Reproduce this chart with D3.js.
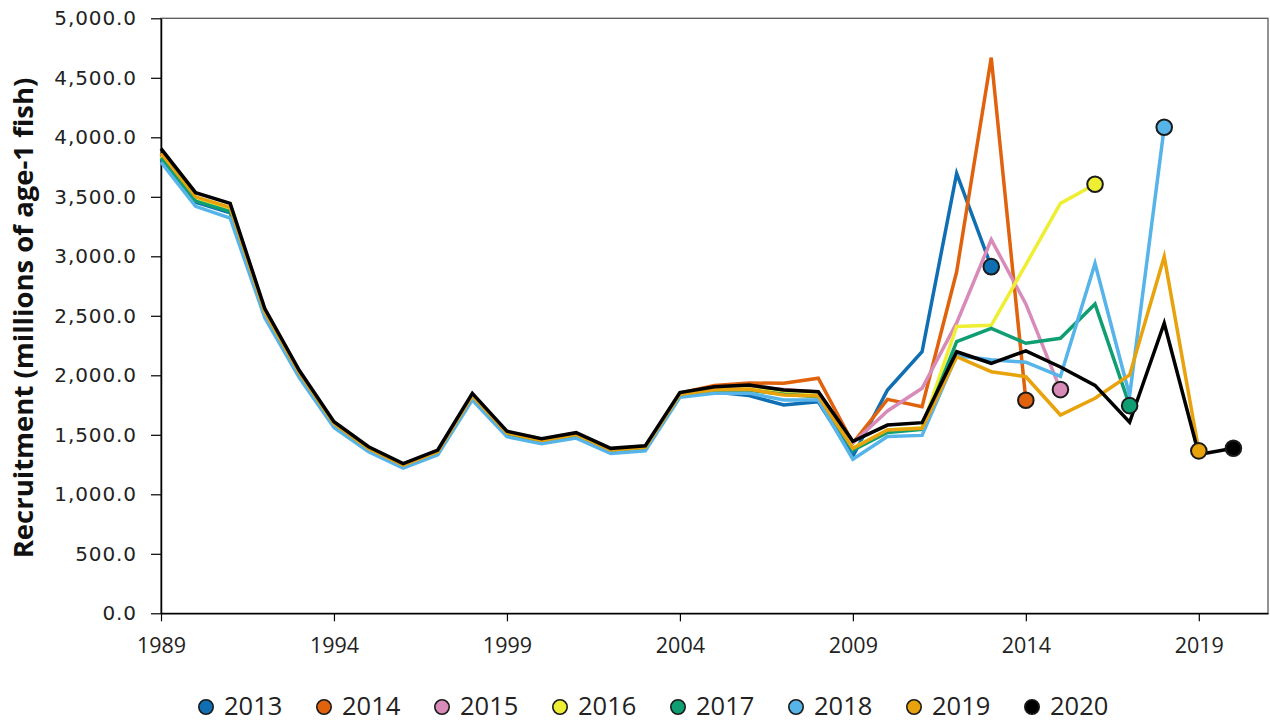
<!DOCTYPE html>
<html><head><meta charset="utf-8">
<script src="https://cdn.jsdelivr.net/npm/d3@7"></script>
<style>body{margin:0;background:#fff}</style>
</head><body>
<svg id="c" width="1270" height="723"></svg>
<script>
// ---- data ----
const years = [1989,1990,1991,1992,1993,1994,1995,1996,1997,1998,1999,2000,2001,2002,2003,2004,2005,2006,2007,2008,2009,2010,2011,2012,2013,2014,2015,2016,2017,2018,2019,2020];
const seriesNames = ["2013","2014","2015","2016","2017","2018","2019","2020"];
const seriesColors = ["#0f6fb2","#e0620d","#d88bb8","#eeee33","#0f9e72","#56b4e9","#e8a20c","#000000"];
const s2013 = [3815,3454,3366,2501,1993,1573,1368,1229,1340,1805,1495,1434,1483,1354,1376,1825,1860,1830,1750,1778,1320,1876,2198,3697,2913];
const s2014 = [3858,3493,3404,2529,2016,1591,1383,1243,1356,1826,1512,1450,1500,1369,1391,1850,1915,1935,1933,1975,1430,1798,1736,2870,4670,1790];
const s2015 = [3846,3482,3393,2522,2009,1586,1379,1239,1351,1820,1507,1446,1495,1365,1387,1845,1895,1905,1880,1860,1430,1700,1891,2440,3140,2600,1880];
const s2016 = [3835,3471,3383,2514,2003,1581,1375,1235,1347,1815,1502,1442,1491,1361,1383,1835,1880,1885,1850,1830,1390,1540,1560,2410,2420,2930,3445,3605];
const s2017 = [3827,3464,3376,2509,1999,1578,1372,1233,1345,1811,1499,1439,1488,1358,1380,1830,1870,1875,1840,1820,1370,1520,1545,2283,2395,2269,2311,2599,1745];
const s2018 = [3790,3420,3320,2483,1979,1562,1358,1220,1331,1793,1484,1424,1472,1344,1366,1815,1850,1850,1792,1792,1295,1485,1495,2165,2130,2110,1990,2940,1830,4085];
const s2019 = [3866,3500,3411,2534,2020,1594,1386,1245,1358,1830,1515,1453,1503,1372,1394,1840,1878,1882,1834,1826,1385,1540,1555,2156,2030,1988,1666,1807,2003,2997,1365];
const s2020 = [3905,3535,3445,2560,2040,1610,1400,1258,1372,1848,1530,1468,1518,1386,1408,1855,1904,1918,1877,1862,1445,1582,1602,2198,2101,2205,2070,1915,1605,2437,1335,1387];
const seriesValues = [s2013,s2014,s2015,s2016,s2017,s2018,s2019,s2020];
const xTicks = [1989,1994,1999,2004,2009,2014,2019];
const yTicks = [0,500,1000,1500,2000,2500,3000,3500,4000,4500,5000];

// ---- layout ----
const L = 161, R = 1268, T = 18.3, B = 613.3;
const svg = d3.select("#c");
svg.append("rect").attr("width",1270).attr("height",723).attr("fill","#fff");
const x = d3.scaleLinear().domain([1989, 2021]).range([L, R]);
const y = d3.scaleLinear().domain([0, 5000]).range([B, T]);

// plot border
svg.append("rect").attr("x",L).attr("y",T).attr("width",R-L).attr("height",B-T)
  .attr("fill","none").attr("stroke","#595959").attr("stroke-width",1.3);

// axes
const yAxis = svg.append("g").attr("transform",`translate(${L},0)`)
  .call(d3.axisLeft(y).tickValues(yTicks).tickFormat(d3.format(",.1f")).tickSize(10).tickPadding(14).tickSizeOuter(0));
yAxis.select(".domain").attr("stroke","#000").attr("stroke-width",1.5);
yAxis.selectAll(".tick line").attr("stroke","#000").attr("stroke-width",1.2);
yAxis.selectAll(".tick text").attr("font-family","DejaVu Sans").attr("font-size",20).attr("letter-spacing",0.9).attr("fill","#222");

const xAxis = svg.append("g").attr("transform",`translate(0,${B})`)
  .call(d3.axisBottom(x).tickValues(xTicks).tickFormat(d3.format("d")).tickSize(8).tickPadding(16).tickSizeOuter(0));
xAxis.select(".domain").attr("stroke","#000").attr("stroke-width",1.6);
xAxis.selectAll(".tick line").attr("stroke","#000").attr("stroke-width",1.2);
xAxis.selectAll(".tick text").attr("font-family","Open Sans").attr("font-size",21.5).attr("fill","#222");

// y label
svg.append("text").attr("transform","translate(33,318) rotate(-90)")
  .attr("text-anchor","middle").attr("font-family","Open Sans").attr("font-weight","bold")
  .attr("font-size",27.5).attr("fill","#111").text("Recruitment (millions of age-1 fish)");

// lines
const line = d3.line().x((d,i)=>x(years[i])).y(d=>y(d));
seriesValues.forEach((vals,k)=>{
  svg.append("path").datum(vals).attr("d",line).attr("fill","none")
    .attr("stroke",seriesColors[k]).attr("stroke-width",3.5)
    .attr("stroke-linejoin","miter").attr("stroke-miterlimit",6);
});
// end markers
seriesValues.forEach((vals,k)=>{
  const i = vals.length-1;
  svg.append("circle").attr("cx",x(years[i])).attr("cy",y(vals[i])).attr("r",7.8)
    .attr("fill",seriesColors[k]).attr("stroke","#1a1a1a").attr("stroke-width",2);
});

// legend
const lg = svg.append("g");
seriesNames.forEach((n,k)=>{
  const cx = 206 + k*118;
  lg.append("circle").attr("cx",cx).attr("cy",707).attr("r",7.2)
    .attr("fill",seriesColors[k]).attr("stroke","#1a1a1a").attr("stroke-width",1.6);
  lg.append("text").attr("x",cx+18).attr("y",715).attr("font-family","Open Sans")
    .attr("font-size",25.5).attr("fill","#222").text(n);
});
</script>
</body></html>
